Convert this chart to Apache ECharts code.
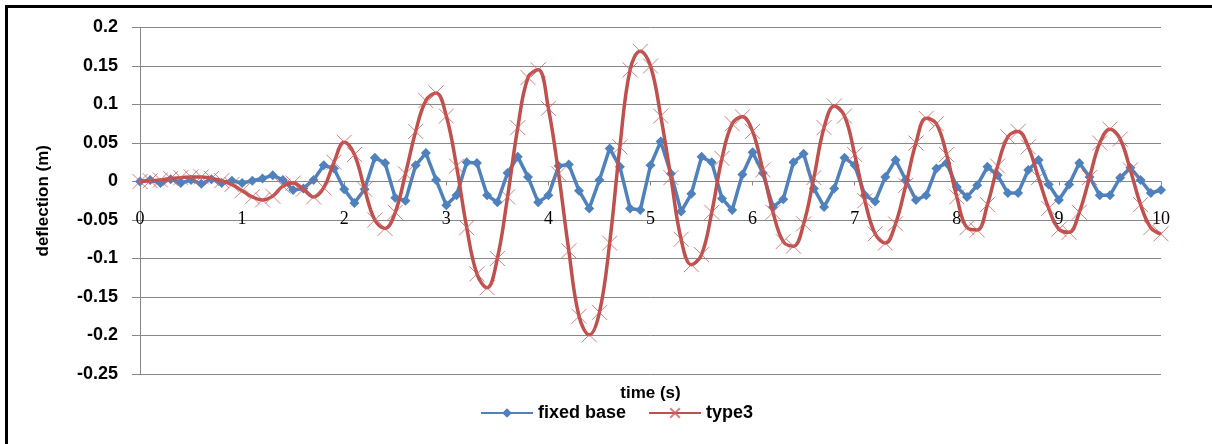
<!DOCTYPE html>
<html>
<head>
<meta charset="utf-8">
<script src="https://cdn.jsdelivr.net/npm/echarts@6/dist/echarts.min.js"></script>
<style>
html,body{margin:0;padding:0;background:#fff;}
#chart{width:1212px;height:444px;}
</style>
</head>
<body>
<div id="chart"></div>
<script>
const times = [0,0.1,0.2,0.3,0.4,0.5,0.6,0.7,0.8,0.9,
1,1.1,1.2,1.3,1.4,1.5,1.6,1.7,1.8,1.9,
2,2.1,2.2,2.3,2.4,2.5,2.6,2.7,2.8,2.9,
3,3.1,3.2,3.3,3.4,3.5,3.6,3.7,3.8,3.9,
4,4.1,4.2,4.3,4.4,4.5,4.6,4.7,4.8,4.9,
5,5.1,5.2,5.3,5.4,5.5,5.6,5.7,5.8,5.9,
6,6.1,6.2,6.3,6.4,6.5,6.6,6.7,6.8,6.9,
7,7.1,7.2,7.3,7.4,7.5,7.6,7.7,7.8,7.9,
8,8.1,8.2,8.3,8.4,8.5,8.6,8.7,8.8,8.9,
9,9.1,9.2,9.3,9.4,9.5,9.6,9.7,9.8,9.9,10];

const fixedBase = [0.000,0.002,-0.002,0.003,-0.002,0.002,-0.003,0.003,-0.002,0.001,
-0.002,0.001,0.004,0.008,0.002,-0.011,-0.009,0.002,0.021,0.017,
-0.010,-0.028,-0.010,0.031,0.024,-0.021,-0.025,0.021,0.037,0.002,
-0.031,-0.018,0.025,0.024,-0.018,-0.027,0.011,0.032,0.006,-0.027,
-0.018,0.020,0.022,-0.012,-0.035,0.002,0.043,0.019,-0.035,-0.037,
0.021,0.052,0.010,-0.039,-0.016,0.032,0.025,-0.022,-0.037,0.009,
0.038,0.011,-0.033,-0.023,0.025,0.036,-0.009,-0.033,-0.009,0.031,
0.021,-0.018,-0.026,0.006,0.028,0.002,-0.024,-0.018,0.017,0.024,
-0.007,-0.020,-0.005,0.019,0.008,-0.015,-0.015,0.015,0.028,-0.004,
-0.024,-0.004,0.024,0.006,-0.018,-0.018,0.005,0.018,0.002,-0.015,-0.011];

const type3 = [0.000,0.001,0.002,0.004,0.005,0.006,0.006,0.004,0.001,-0.004,
-0.012,-0.020,-0.024,-0.019,-0.006,-0.002,-0.010,-0.020,-0.008,0.025,
0.051,0.035,-0.010,-0.050,-0.061,-0.040,0.010,0.065,0.105,0.115,
0.085,0.020,-0.060,-0.120,-0.138,-0.100,-0.020,0.070,0.135,0.145,
0.095,0.010,-0.090,-0.175,-0.199,-0.170,-0.080,0.045,0.145,0.169,
0.150,0.085,0.005,-0.075,-0.108,-0.095,-0.040,0.030,0.075,0.084,
0.065,0.015,-0.040,-0.078,-0.084,-0.055,0.005,0.070,0.098,0.085,
0.035,-0.025,-0.068,-0.080,-0.055,-0.005,0.050,0.082,0.075,0.035,
-0.020,-0.060,-0.063,-0.030,0.020,0.058,0.065,0.045,0.005,-0.035,
-0.062,-0.066,-0.040,0.005,0.050,0.068,0.055,0.015,-0.030,-0.060,-0.068];

const seriesNames = ['fixed base', 'type3'];
const xAxisName = 'time (s)';
const yAxisName = 'deflection (m)';

const pair = (vals) => times.map((t, i) => [t, vals[i]]);

const chart = echarts.init(document.getElementById('chart'), null, {renderer: 'canvas'});
const gridColor = '#878787';
chart.setOption({
  animation: false,
  backgroundColor: '#ffffff',
  grid: {left: 140, right: 51, top: 27.5, bottom: 70, containLabel: false, outerBoundsMode: 'none'},
  graphic: [
    {type: 'rect', shape: {x: 5, y: 5, width: 1207, height: 3}, style: {fill: '#000'}},
    {type: 'rect', shape: {x: 5, y: 5, width: 3, height: 439}, style: {fill: '#000'}}
  ],
  legend: {
    top: 399,
    left: 475,
    itemWidth: 52,
    itemHeight: 12,
    itemGap: 22,
    textStyle: {fontFamily: 'Liberation Sans', fontWeight: 'bold', fontSize: 18, color: '#000'},
    data: seriesNames
  },
  xAxis: {
    type: 'value',
    min: 0, max: 10, interval: 1,
    position: 'bottom',
    offset: -192.5,
    name: xAxisName,
    nameLocation: 'middle',
    nameGap: 203,
    nameMoveOverlap: false,
    nameTextStyle: {fontFamily: 'Liberation Sans', fontWeight: 'bold', fontSize: 17, color: '#000'},
    axisLine: {onZero: false, lineStyle: {color: gridColor, width: 1}},
    axisTick: {show: true, inside: false, length: 4, lineStyle: {color: gridColor}},
    axisLabel: {margin: 29, fontFamily: 'Liberation Serif', fontSize: 18, color: '#000'},
    splitLine: {show: false}
  },
  yAxis: {
    type: 'value',
    min: -0.25, max: 0.2, interval: 0.05,
    name: yAxisName,
    nameLocation: 'middle',
    nameGap: 88,
    nameRotate: 90,
    nameMoveOverlap: false,
    nameTextStyle: {fontFamily: 'Liberation Sans', fontWeight: 'bold', fontSize: 17, color: '#000'},
    axisLine: {show: true, lineStyle: {color: gridColor, width: 1}},
    axisTick: {show: true, length: 8, lineStyle: {color: gridColor}},
    axisLabel: {margin: 22, fontFamily: 'Liberation Sans', fontWeight: 'bold', fontSize: 18, color: '#000'},
    splitLine: {show: true, lineStyle: {color: gridColor, width: 1}}
  },
  series: [
    {
      name: seriesNames[0],
      type: 'line',
      data: pair(fixedBase),
      symbol: 'diamond',
      symbolSize: 10,
      lineStyle: {color: '#4f81bd', width: 3.5},
      itemStyle: {color: '#4f81bd'},
      z: 2
    },
    {
      name: seriesNames[1],
      type: 'line',
      data: pair(type3),
      smooth: 0.4,
      clip: false,
      symbol: 'path://M0,0L10,10M10,0L0,10',
      symbolSize: 15,
      lineStyle: {color: '#c0504d', width: 3.5},
      itemStyle: {color: 'rgba(0,0,0,0)', borderColor: 'rgba(210,95,95,0.8)', borderWidth: 1},
      z: 3
    }
  ]
});
</script>
</body>
</html>
